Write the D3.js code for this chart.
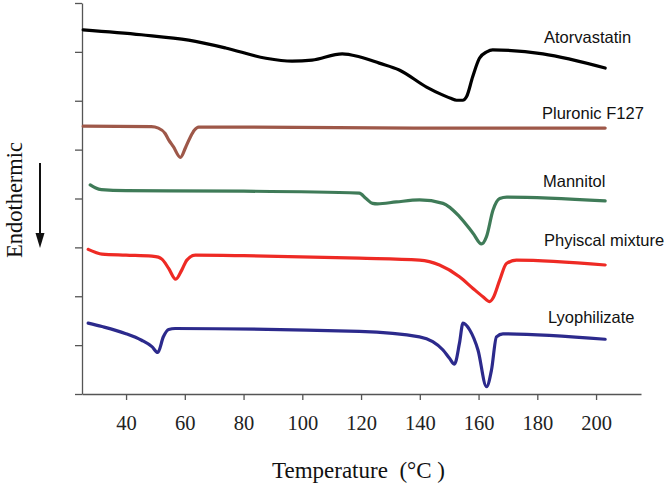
<!DOCTYPE html>
<html>
<head>
<meta charset="utf-8">
<script src="https://cdn.jsdelivr.net/npm/d3@7"></script>
<style>
  body { margin: 0; background: #fff; }
  svg { display: block; }
</style>
</head>
<body>
<div id="chart"></div>
<script>
// DSC curves, [temperature °C, heat flow (arbitrary units, shifted)]
const atorvastatin = [
  [25.4, 7.45], [45.2, 7.35], [61.3, 7.24], [73.9, 7.08], [87.6, 6.87], [96.5, 6.81],
  [103.3, 6.83], [113.6, 6.96], [119.4, 6.90], [126.2, 6.77], [133.0, 6.63], [142.3, 6.28],
  [147.7, 6.12], [150.5, 6.05], [152.5, 6.01], [154.6, 6.01], [155.9, 6.08], [158.0, 6.49],
  [160.3, 6.87], [162.8, 7.00], [164.8, 7.04], [181.9, 6.96], [203.1, 6.67]
];
const pluronic = [
  [25.4, 5.48], [48.6, 5.47], [51.0, 5.44], [53.3, 5.33], [54.5, 5.20], [56.1, 5.06],
  [58.5, 4.84], [60.3, 5.05], [61.9, 5.26], [63.3, 5.40], [64.7, 5.46], [80, 5.46],
  [140, 5.44], [203.1, 5.44]
];
const mannitol = [
  [27.8, 4.28], [29.5, 4.22], [31.6, 4.18], [40, 4.16], [80, 4.15], [119.4, 4.11],
  [121.7, 4.00], [123.9, 3.90], [125.6, 3.89], [132, 3.93], [139.9, 3.97], [147.9, 3.90],
  [153.5, 3.63], [158.1, 3.29], [161.0, 3.07], [162.7, 3.22], [164.9, 3.76], [167.2, 4.00],
  [169.6, 4.03], [203.1, 3.95]
];
const physicalMixture = [
  [27.1, 2.96], [29.5, 2.90], [31.8, 2.86], [40, 2.84], [48.8, 2.82], [51.0, 2.80],
  [52.2, 2.76], [54.5, 2.57], [56.9, 2.35], [59.0, 2.54], [60.7, 2.74], [63.6, 2.84],
  [80, 2.83], [119.4, 2.78], [139.9, 2.74], [146.7, 2.64], [153.5, 2.40], [158.1, 2.16],
  [161.5, 1.99], [163.8, 1.89], [164.9, 1.96], [167.2, 2.33], [169.5, 2.67], [172.9, 2.74],
  [203.1, 2.64]
];
const lyophilizate = [
  [27.1, 1.45], [31.8, 1.38], [39.7, 1.24], [45.3, 1.10], [48.8, 0.97], [50.8, 0.85],
  [52.7, 1.17], [54.5, 1.32], [56.7, 1.34], [119.4, 1.28], [139.9, 1.17], [144.4, 1.07],
  [147.9, 0.90], [150.1, 0.73], [151.8, 0.61], [153.5, 1.04], [154.7, 1.45], [157.0, 1.31],
  [159.8, 0.90], [162.7, 0.15], [164.4, 0.49], [166.1, 1.17], [168.3, 1.23], [203.1, 1.12]
];

const seriesNames = ["Atorvastatin", "Pluronic F127", "Mannitol", "Phyiscal mixture", "Lyophilizate"];
const seriesData = [atorvastatin, pluronic, mannitol, physicalMixture, lyophilizate];
const seriesColors = ["#000000", "#9e5849", "#3f7b58", "#ee2a24", "#2c2a8c"];
const xTicks = [40, 60, 80, 100, 120, 140, 160, 180, 200];
const yTicks = [0, 1, 2, 3, 4, 5, 6, 7, 8];

const width = 670;
const height = 488;

const svg = d3.select("#chart")
  .append("svg")
  .attr("width", width)
  .attr("height", height);

// Scales
const x = d3.scaleLinear().domain([25, 215.3]).range([82, 641]);
const y = d3.scaleLinear().domain([0, 8]).range([394, 3]);

// X axis
const xAxis = svg.append("g")
  .attr("transform", `translate(0,${y(0)})`)
  .call(d3.axisBottom(x).tickValues(xTicks).tickSize(6).tickSizeOuter(0));
xAxis.selectAll("text")
  .attr("y", 36)
  .attr("dy", 0)
  .attr("font-family", "'Liberation Serif', 'Times New Roman', serif")
  .attr("font-size", 20.5)
  .attr("fill", "#222");

// Y axis, ticks only
const yAxis = svg.append("g")
  .attr("transform", `translate(${x.range()[0]},0)`)
  .call(d3.axisLeft(y).tickValues(yTicks).tickSize(7).tickSizeOuter(0).tickFormat(""));

svg.selectAll(".domain, .tick line")
  .attr("stroke", "#555")
  .attr("stroke-width", 1.3);

// Curves
const line = d3.line()
  .x(d => x(d[0]))
  .y(d => y(d[1]))
  .curve(d3.curveMonotoneX);

svg.append("g")
  .selectAll("path")
  .data(seriesData)
  .enter().append("path")
  .attr("d", line)
  .attr("fill", "none")
  .attr("stroke", (d, i) => seriesColors[i])
  .attr("stroke-width", 3.2)
  .attr("stroke-linejoin", "round")
  .attr("stroke-linecap", "round");

// Curve labels
const labelPos = [[544, 43], [542, 119], [543, 187], [544, 246], [548, 323]];
svg.append("g")
  .attr("font-family", "'Liberation Sans', Arial, sans-serif")
  .attr("font-size", 16.5)
  .attr("fill", "#111")
  .selectAll("text")
  .data(seriesNames)
  .enter().append("text")
  .attr("x", (d, i) => labelPos[i][0])
  .attr("y", (d, i) => labelPos[i][1])
  .text(d => d);

// Axis titles
svg.append("text")
  .attr("x", 272)
  .attr("y", 478)
  .attr("font-family", "'Liberation Serif', 'Times New Roman', serif")
  .attr("font-size", 23)
  .attr("fill", "#111")
  .attr("xml:space", "preserve")
  .text("Temperature  (°C )");

svg.append("text")
  .attr("transform", "translate(22,200) rotate(-90)")
  .attr("text-anchor", "middle")
  .attr("font-family", "'Liberation Serif', 'Times New Roman', serif")
  .attr("font-size", 22.5)
  .attr("fill", "#111")
  .text("Endothermic");

// Arrow pointing down
svg.append("line")
  .attr("x1", 40).attr("y1", 163)
  .attr("x2", 40).attr("y2", 236)
  .attr("stroke", "#111")
  .attr("stroke-width", 2);
svg.append("path")
  .attr("d", "M35.5,233 L44.5,233 L40,248 Z")
  .attr("fill", "#111");
</script>
</body>
</html>
